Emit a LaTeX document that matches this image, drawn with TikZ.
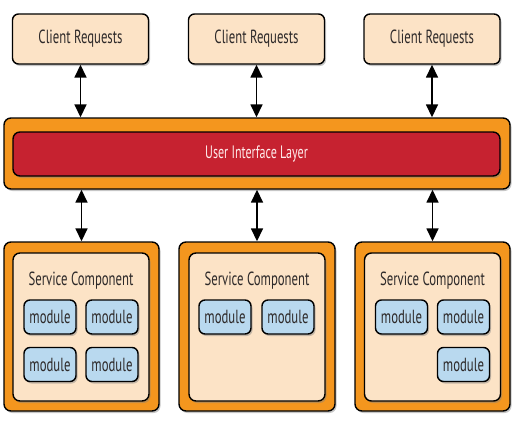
\documentclass[tikz,border=0pt]{standalone}
\usepackage{fontspec}
\setsansfont{PT Sans}[FakeStretch=0.67]
\usepackage{tikz}
\usetikzlibrary{arrows.meta,shadows}
\definecolor{peach}{HTML}{FCE3C6}
\definecolor{orangeframe}{HTML}{F4961E}
\definecolor{uired}{HTML}{C62230}
\definecolor{modblue}{HTML}{B9D9EF}
\definecolor{textgray}{HTML}{2E2A2A}
\tikzset{
    shade/.style={drop shadow={shadow xshift=1.5pt,shadow yshift=-2pt,opacity=0.45}},
    client/.style={draw=black,line width=1.4pt,rounded corners=6pt,fill=peach,shade,
        minimum width=136pt,minimum height=50pt,text=textgray,font=\sffamily\fontsize{19}{21}\selectfont},
    frame/.style={draw=black,line width=1.4pt,rounded corners=7pt,fill=orangeframe,shade},
    uilayer/.style={draw=black,line width=1.4pt,rounded corners=7pt,fill=uired,shade,
        minimum width=487pt,minimum height=44pt,text=red!8,font=\sffamily\fontsize{18}{20}\selectfont},
    service/.style={draw=black,line width=1.4pt,rounded corners=7pt,fill=peach,shade,
        minimum width=136pt,minimum height=148pt},
    title/.style={text=textgray,font=\sffamily\fontsize{19}{21}\selectfont},
    module/.style={draw=black,line width=1.4pt,rounded corners=6pt,fill=modblue,shade,
        minimum width=52pt,minimum height=34pt,inner sep=0pt,text=textgray,font=\sffamily\fontsize{19}{21}\selectfont},
    link/.style={{Triangle[length=13pt,width=12pt]}-{Triangle[length=13pt,width=12pt]},line width=1.6pt}
}
\begin{document}
\begin{tikzpicture}[x=1pt,y=-1pt]
\useasboundingbox (0,0) rectangle (524,428);
\node[client] (cr1) at (80.5,39) {Client Requests};
\node[client] (cr2) at (256.5,39) {Client Requests};
\node[client] (cr3) at (432,39) {Client Requests};
\node[frame,minimum width=506pt,minimum height=71pt] (ui) at (257,153.5) {};
\node[uilayer] (uiin) at (256.5,154) {User Interface Layer};
\node[frame,minimum width=155pt,minimum height=169pt] (sc1) at (81.5,326.5) {};
\node[frame,minimum width=156pt,minimum height=169pt] (sc2) at (257,326.5) {};
\node[frame,minimum width=155pt,minimum height=169pt] (sc3) at (432.5,326.5) {};
\node[service] (sc1in) at (81,327) {};
\node[service] (sc2in) at (257,327) {};
\node[service] (sc3in) at (432.5,327) {};
\node[title] (t1) at (81,281) {Service Component};
\node[title] (t2) at (257,281) {Service Component};
\node[title] (t3) at (432.5,281) {Service Component};
\node[module] (m11) at (50,317) {module};
\node[module] (m12) at (112,317) {module};
\node[module] (m13) at (50,364.5) {module};
\node[module] (m14) at (112,364.5) {module};
\node[module] (m21) at (225,317) {module};
\node[module] (m22) at (288,317) {module};
\node[module] (m31) at (401.5,317) {module};
\node[module] (m32) at (463.5,317) {module};
\node[module] (m33) at (463.5,364.5) {module};
\draw[link] (cr1.south) -- (cr1.south |- ui.north);
\draw[link] (cr2.south) -- (cr2.south |- ui.north);
\draw[link] (cr3.south) -- (cr3.south |- ui.north);
\draw[link] (sc1.north |- ui.south) -- (sc1.north);
\draw[link] (sc2.north |- ui.south) -- (sc2.north);
\draw[link] (sc3.north |- ui.south) -- (sc3.north);
\end{tikzpicture}
\end{document}
